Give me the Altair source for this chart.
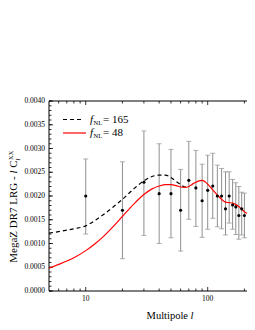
import altair as alt
import pandas as pd

# ---- data ----
ell = [10, 20, 30, 40, 50, 60, 70, 80, 90, 100, 110, 120, 130, 140, 150, 160, 170, 180, 190, 200]
cl = [0.00200, 0.00170, 0.00229, 0.00205, 0.00205, 0.00170, 0.00233, 0.00217, 0.00190, 0.00212,
      0.00221, 0.00200, 0.00200, 0.00173, 0.00200, 0.00181, 0.00177, 0.00159, 0.00173, 0.00159]
err_lo = [0.00120, 0.00068, 0.00117, 0.00100, 0.00112, 0.00084, 0.00151, 0.00136, 0.00113, 0.00130,
          0.00153, 0.00135, 0.00131, 0.00118, 0.00143, 0.00130, 0.00119, 0.00109, 0.00118, 0.00112]
err_hi = [0.00278, 0.00272, 0.00337, 0.00310, 0.00298, 0.00256, 0.00315, 0.00296, 0.00267, 0.00286,
          0.00290, 0.00265, 0.00258, 0.00251, 0.00251, 0.00235, 0.00228, 0.00220, 0.00208, 0.00206]

dash_l = [5, 6, 7, 8, 10, 12, 14, 17, 20, 25, 30, 35, 40, 45, 50, 55, 60, 65, 70]
dash_v = [0.00122, 0.00125, 0.00128, 0.00131, 0.00137, 0.00149, 0.00161, 0.00178, 0.00193, 0.00216,
          0.00232, 0.00241, 0.00244, 0.00244, 0.00239, 0.00231, 0.00224, 0.00219, 0.00220]

red_l = [5, 6, 7, 8, 10, 12, 14, 17, 20, 25, 30, 35, 40, 45, 50, 55, 60, 65, 70, 75, 80, 85, 90, 95,
         100, 110, 120, 130, 140, 150, 160, 170, 180, 190, 200, 210]
red_v = [0.00048, 0.00056, 0.00063, 0.00070, 0.00085, 0.00100, 0.00115, 0.00137, 0.00157, 0.00184,
         0.00203, 0.00215, 0.00221, 0.00224, 0.00224, 0.00222, 0.00219, 0.00218, 0.00220, 0.00225,
         0.00229, 0.00232, 0.00233, 0.00230, 0.00225, 0.00213, 0.00202, 0.00193, 0.00187, 0.00186,
         0.00185, 0.00182, 0.00178, 0.00172, 0.00167, 0.00163]

y_major = [0.0, 0.0005, 0.0010, 0.0015, 0.0020, 0.0025, 0.0030, 0.0035, 0.0040]
y_labels = ["0.0000", "0.0005", "0.0010", "0.0015", "0.0020", "0.0025", "0.0030", "0.0035", "0.0040"]
y_minor = [i / 10000 for i in range(0, 41)]
x_major = [10, 100]
x_labels = ["10", "100"]
x_minor = [6, 7, 8, 9, 20, 30, 40, 50, 60, 70, 80, 90, 200]

# ---- tables ----
pts = pd.DataFrame({"l": ell, "c": cl, "lo": err_lo, "hi": err_hi})
dash_df = pd.DataFrame({"l": dash_l, "v": dash_v})
red_df = pd.DataFrame({"l": red_l, "v": red_v})
ymaj_df = pd.DataFrame({"v": y_major, "t": y_labels})
ymin_df = pd.DataFrame({"v": y_minor})
xmaj_df = pd.DataFrame({"l": x_major, "t": x_labels})
xmin_df = pd.DataFrame({"l": x_minor})
one = pd.DataFrame({"a": [0]})

W, H = 198, 190
FONT = "Liberation Serif"

xs = alt.Scale(type="log", domain=[5, 210], nice=False)
ys = alt.Scale(domain=[0, 0.004], nice=False, zero=False)


def X(field):
    return alt.X(field, type="quantitative", scale=xs, axis=None)


def Y(field):
    return alt.Y(field, type="quantitative", scale=ys, axis=None)


# frame (left, top, bottom; right edge is cut off in the reference)
frame = [
    alt.Chart(one).mark_rule(color="black", strokeWidth=1).encode(
        x=alt.value(0), y=alt.value(0), y2=alt.value(H)),
    alt.Chart(one).mark_rule(color="black", strokeWidth=1).encode(
        x=alt.value(0), x2=alt.value(W + 2), y=alt.value(0)),
    alt.Chart(one).mark_rule(color="black", strokeWidth=1).encode(
        x=alt.value(0), x2=alt.value(W + 2), y=alt.value(H)),
]

# tick labels drawn through the scales
y_lab = alt.Chart(ymaj_df).mark_text(font=FONT, fontSize=7.5, align="right", baseline="middle",
                                     color="black").encode(y=Y("v"), x=alt.value(-4), text="t:N")
x_lab = alt.Chart(xmaj_df).mark_text(font=FONT, fontSize=7.5, align="center", baseline="top",
                                     color="black").encode(x=X("l"), y=alt.value(H + 4), text="t:N")

# inward ticks
yl_major = alt.Chart(ymaj_df).mark_rule(color="black", strokeWidth=0.8).encode(
    y=Y("v"), x=alt.value(0), x2=alt.value(4))
yl_minor = alt.Chart(ymin_df).mark_rule(color="black", strokeWidth=0.8).encode(
    y=Y("v"), x=alt.value(0), x2=alt.value(2.5))
xb_major = alt.Chart(xmaj_df).mark_rule(color="black", strokeWidth=0.8).encode(
    x=X("l"), y=alt.value(H), y2=alt.value(H - 4))
xb_minor = alt.Chart(xmin_df).mark_rule(color="black", strokeWidth=0.8).encode(
    x=X("l"), y=alt.value(H), y2=alt.value(H - 2.5))
xt_major = alt.Chart(xmaj_df).mark_rule(color="black", strokeWidth=0.8).encode(
    x=X("l"), y=alt.value(0), y2=alt.value(4))
xt_minor = alt.Chart(xmin_df).mark_rule(color="black", strokeWidth=0.8).encode(
    x=X("l"), y=alt.value(0), y2=alt.value(2.5))

# error bars
bars = alt.Chart(pts).mark_rule(color="#8f8f8f", strokeWidth=1).encode(
    x=X("l"), y=Y("lo"), y2=alt.Y2("hi"))
cap_lo = alt.Chart(pts).mark_tick(color="#8f8f8f", orient="horizontal", size=5, thickness=1).encode(
    x=X("l"), y=Y("lo"))
cap_hi = alt.Chart(pts).mark_tick(color="#8f8f8f", orient="horizontal", size=5, thickness=1).encode(
    x=X("l"), y=Y("hi"))

# curves
dash_line = alt.Chart(dash_df).mark_line(color="black", strokeWidth=1.2, strokeDash=[4, 3],
                                         interpolate="monotone").encode(x=X("l"), y=Y("v"))
red_line = alt.Chart(red_df).mark_line(color="#ff0000", strokeWidth=1.2,
                                       interpolate="monotone").encode(x=X("l"), y=Y("v"))

dots = alt.Chart(pts).mark_circle(color="black", size=10, opacity=1).encode(x=X("l"), y=Y("c"))

# legend (manual)
leg_dash = alt.Chart(one).mark_rule(color="black", strokeWidth=1.2, strokeDash=[4, 3]).encode(
    x=alt.value(14), x2=alt.value(35), y=alt.value(18.5))
leg_red = alt.Chart(one).mark_rule(color="#ff0000", strokeWidth=1.2).encode(
    x=alt.value(14), x2=alt.value(37), y=alt.value(32))


def txt(text, x, y, size=11, italic=False, align="left", baseline="middle", angle=None):
    kw = dict(text=text, font=FONT, fontSize=size, align=align, baseline=baseline, color="black")
    if italic:
        kw["fontStyle"] = "italic"
    if angle is not None:
        kw["angle"] = angle
    return alt.Chart(one).mark_text(**kw).encode(x=alt.value(x), y=alt.value(y))


legend_texts = [
    txt("f", 41, 18.5, italic=True),
    txt("NL", 44.5, 21.5, size=6.5),
    txt("= 165", 54, 18.5),
    txt("f", 41, 32, italic=True),
    txt("NL", 44.5, 35, size=6.5),
    txt("= 48", 54, 32),
]

# x title
x_title = [
    txt("Multipole", 139, 215, size=10.5, align="right"),
    txt("l", 141.5, 215, size=10.5, italic=True),
]

# y title (rotated pieces)
y_title = [
    txt("C", -32.5, 59.5, size=11, align="right", baseline="alphabetic", angle=270),
    txt("l", -32.5, 69.5, size=11, italic=True, align="right", baseline="alphabetic", angle=270),
    txt("MegaZ DR7 LRG -", -32.5, 75.3, size=11, align="right", baseline="alphabetic", angle=270),
    txt("XX", -36, 59, size=6.5, align="left", baseline="alphabetic", angle=270),
    txt("l", -29, 59.5, size=6.5, italic=True, align="left", baseline="alphabetic", angle=270),
]

chart = alt.layer(
    *frame,
    yl_major, yl_minor, xb_major, xb_minor, xt_major, xt_minor,
    y_lab, x_lab,
    bars, cap_lo, cap_hi,
    dash_line, red_line, dots,
    leg_dash, leg_red,
    *legend_texts, *x_title, *y_title,
).properties(
    width=W, height=H,
    background="white",
    autosize=alt.AutoSizeParams(type="none"),
    padding={"left": 41, "top": 93, "right": 0, "bottom": 30},
).configure_view(
    stroke="transparent"
)

chart.save("out.html", embed_options={"renderer": "svg", "actions": False})
